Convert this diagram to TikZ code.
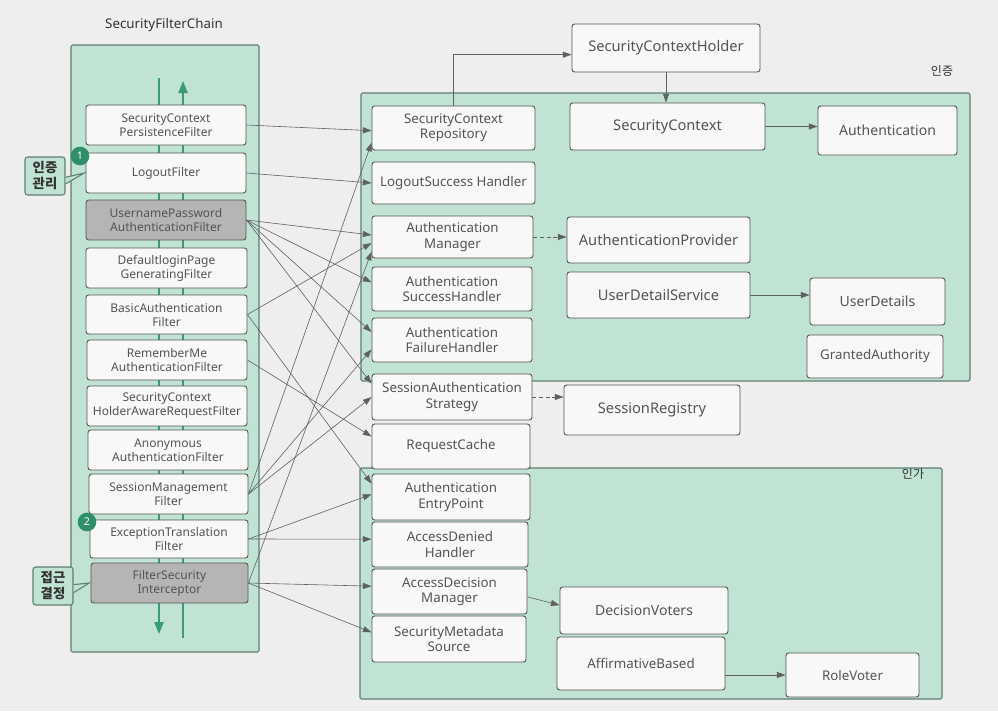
\documentclass[tikz,border=0pt]{standalone}
\usepackage{fontspec}
\setmainfont{Noto Sans}
\newfontfamily\kr{Noto Sans CJK KR}
\usetikzlibrary{arrows.meta,calc}
\definecolor{bgc}{HTML}{EFEEEF}
\definecolor{mint}{HTML}{C0E3D3}
\definecolor{contline}{HTML}{5F7F70}
\definecolor{boxline}{HTML}{555555}
\definecolor{boxfill}{HTML}{F8F8F8}
\definecolor{grayfill}{HTML}{B5B5B5}
\definecolor{txt}{HTML}{555555}
\definecolor{badge}{HTML}{2F8F6B}
\definecolor{flowc}{HTML}{3A9A78}
\definecolor{arr}{HTML}{606060}
\newcommand\mkbox[7]{\node[#6, minimum width={(#4-#2)*0.75pt}, minimum height={(#5-#3)*0.75pt}] (#1) at ({(#2+#4)/2},{(#3+#5)/2}) {#7};}
\begin{document}
\begin{tikzpicture}[x=0.75pt,y=-0.75pt,
  cont/.style={draw=contline, fill=mint, line width=0.8pt, rounded corners=1pt, inner sep=0pt},
  box/.style={draw=boxline, fill=boxfill, line width=0.7pt, rounded corners=2pt, inner sep=0pt, align=center, text=txt},
  filt/.style={box, font=\fontsize{9}{10.5}\selectfont},
  gfilt/.style={filt, fill=grayfill},
  mid/.style={box, font=\fontsize{10}{11.5}\selectfont},
  big/.style={box, font=\fontsize{11}{13}\selectfont},
  conn/.style={draw=arr, line width=0.45pt, -{Triangle[length=6.5pt,width=4.5pt]}},
  dconn/.style={conn, densely dashed},
  flow/.style={draw=flowc, line width=1pt},
  badgest/.style={circle, fill=badge, text=white, inner sep=0pt, minimum size=14pt, font=\fontsize{8}{8}\selectfont\bfseries},
  tag/.style={draw=contline, fill=mint, line width=0.8pt, rounded corners=2pt, inner sep=0pt, align=center, text=black!80, font=\kr\fontsize{10}{12}\selectfont\bfseries},
  grp/.style={text=black!80, font=\kr\fontsize{9}{10}\selectfont}
]
\fill[bgc] (0,0) rectangle (998,711);
\useasboundingbox (0,0) rectangle (998,711);

% title
\node[text=black!80, font=\fontsize{10}{12}\selectfont] (title) at (164,25) {SecurityFilterChain};

% containers
\mkbox{chain}{71}{45}{259}{652}{cont}{}
\mkbox{authn}{361}{93}{970}{381}{cont}{}
\mkbox{authz}{360}{468}{942}{699}{cont}{}
\node[grp] (g1) at (942,71) {인증};
\node[grp] (g2) at (913,474) {인가};

% flow lines inside chain
\coordinate (dTop) at (159,78);
\coordinate (dBot) at (159,634);
\coordinate (uBot) at (183,638);
\coordinate (uTop) at (183,81);
\draw[flow, -{Triangle[length=9pt,width=7pt]}] (dTop) -- (dBot);
\draw[flow, -{Triangle[length=9pt,width=7pt]}] (uBot) -- (uTop);

% filters
\mkbox{f1}{86}{105}{246}{145}{filt}{SecurityContext\\PersistenceFilter}
\mkbox{f2}{86}{153}{246}{193}{filt}{LogoutFilter}
\mkbox{f3}{86}{200}{246}{240}{gfilt}{UsernamePassword\\AuthenticationFilter}
\mkbox{f4}{86}{248}{247}{288}{filt}{DefaultloginPage\\GeneratingFilter}
\mkbox{f5}{86}{295}{247}{334}{filt}{BasicAuthentication\\Filter}
\mkbox{f6}{87}{340}{247}{380}{filt}{RememberMe\\AuthenticationFilter}
\mkbox{f7}{87}{386}{247}{426}{filt}{SecurityContext\\HolderAwareRequestFilter}
\mkbox{f8}{88}{430}{248}{470}{filt}{Anonymous\\AuthenticationFilter}
\mkbox{f9}{89}{474}{248}{514}{filt}{SessionManagement\\Filter}
\mkbox{f10}{90}{520}{248}{558}{filt}{ExceptionTranslation\\Filter}
\mkbox{f11}{91}{563}{248}{603}{gfilt}{FilterSecurity\\Interceptor}

% badges and tags
\node[badgest] (b1) at (80,156) {1};
\node[badgest] (b2) at (87,522) {2};
\mkbox{t1}{25}{157}{65}{195}{tag}{인증\\관리}
\mkbox{t2}{33}{567}{73}{605}{tag}{접근\\결정}
\filldraw[draw=contline, fill=mint, line width=0.8pt] ([yshift=-1pt]t1.east) -- ([xshift=-1pt]f2.west) -- ([yshift=-6pt]t1.east);
\filldraw[draw=contline, fill=mint, line width=0.8pt] ([yshift=1pt]t2.east) -- ([xshift=-1pt]f11.west) -- ([yshift=-5pt]t2.east);

% middle column
\mkbox{m1}{372}{106}{535}{150}{mid}{SecurityContext\\Repository}
\mkbox{m2}{372}{162}{535}{204}{mid}{LogoutSuccess Handler}
\mkbox{m3}{372}{216}{533}{258}{mid}{Authentication\\Manager}
\mkbox{m4}{372}{267}{532}{311}{mid}{Authentication\\SuccessHandler}
\mkbox{m5}{372}{318}{532}{362}{mid}{Authentication\\FailureHandler}
\mkbox{m6}{372}{374}{532}{420}{mid}{SessionAuthentication\\Strategy}
\mkbox{m7}{372}{424}{530}{469}{mid}{RequestCache}
\mkbox{m8}{372}{474}{530}{520}{mid}{Authentication\\EntryPoint}
\mkbox{m9}{372}{522}{528}{567}{mid}{AccessDenied\\Handler}
\mkbox{m10}{372}{569}{527}{614}{mid}{AccessDecision\\Manager}
\mkbox{m11}{372}{616}{526}{662}{mid}{SecurityMetadata\\Source}

% right side
\mkbox{sch}{572}{24}{760}{72}{big}{SecurityContextHolder}
\mkbox{sc}{570}{103}{765}{150}{big}{SecurityContext}
\mkbox{auth}{818}{106}{957}{155}{mid}{\fontsize{10.5}{12}\selectfont Authentication}
\mkbox{ap}{567}{217}{750}{263}{big}{AuthenticationProvider}
\mkbox{uds}{567}{272}{750}{318}{big}{UserDetailService}
\mkbox{ud}{810}{278}{945}{325}{mid}{\fontsize{10.5}{12}\selectfont UserDetails}
\mkbox{ga}{807}{335}{943}{378}{mid}{GrantedAuthority}
\mkbox{sr}{564}{385}{740}{435}{big}{SessionRegistry}
\mkbox{dv}{560}{587}{728}{634}{mid}{\fontsize{10.5}{12}\selectfont DecisionVoters}
\mkbox{ab}{557}{637}{725}{690}{mid}{AffirmativeBased}
\mkbox{rv}{786}{653}{919}{697}{mid}{RoleVoter}

% filter -> component connectors
\draw[conn] (f1.east) -- ([yshift=-2pt]m1.west);
\draw[conn] (f9.east) -- ([yshift=-11pt]m1.west);
\draw[conn] (f2.east) -- (m2.west);
\draw[conn] (f3.east) -- ([yshift=1.5pt]m3.west);
\draw[conn] (f5.east) -- ([yshift=-4.5pt]m3.west);
\draw[conn] (f11.east) -- ([yshift=-11pt]m3.west);
\draw[conn] (f3.east) -- ([yshift=5pt]m4.west);
\draw[conn] (f3.east) -- ([yshift=6pt]m5.west);
\draw[conn] (f9.east) -- ([yshift=-7pt]m5.west);
\draw[conn] (f3.east) -- ([yshift=10pt]m6.west);
\draw[conn] (f9.east) -- (m6.west);
\draw[conn] (f6.east) -- ([yshift=7.5pt]m7.west);
\draw[conn] (f5.east) -- ([yshift=10pt]m8.west);
\draw[conn] (f10.east) -- ([yshift=2pt]m8.west);
\draw[conn] (f10.east) -- ([yshift=4pt]m9.west);
\draw[conn] (f11.east) -- ([yshift=4pt]m10.west);
\draw[conn] (f11.east) -- ([yshift=5pt]m11.west);

% component relations
\draw[conn] (m1.north) |- ([yshift=-5pt]sch.west);
\draw[conn] (sch.south) -- (sch.south |- sc.north);
\draw[conn] (sc.east) -- (sc.east -| auth.west);
\draw[dconn] (m3.east) -- (m3.east -| ap.west);
\draw[conn] (uds.east) -- (uds.east -| ud.west);
\draw[dconn] (m6.east) -- (m6.east -| sr.west);
\draw[conn] ([yshift=-4pt]m10.east) -- ([yshift=4pt]dv.west);
\draw[conn] (ab.east |- rv.west) -- (rv.west);
\end{tikzpicture}
\end{document}
